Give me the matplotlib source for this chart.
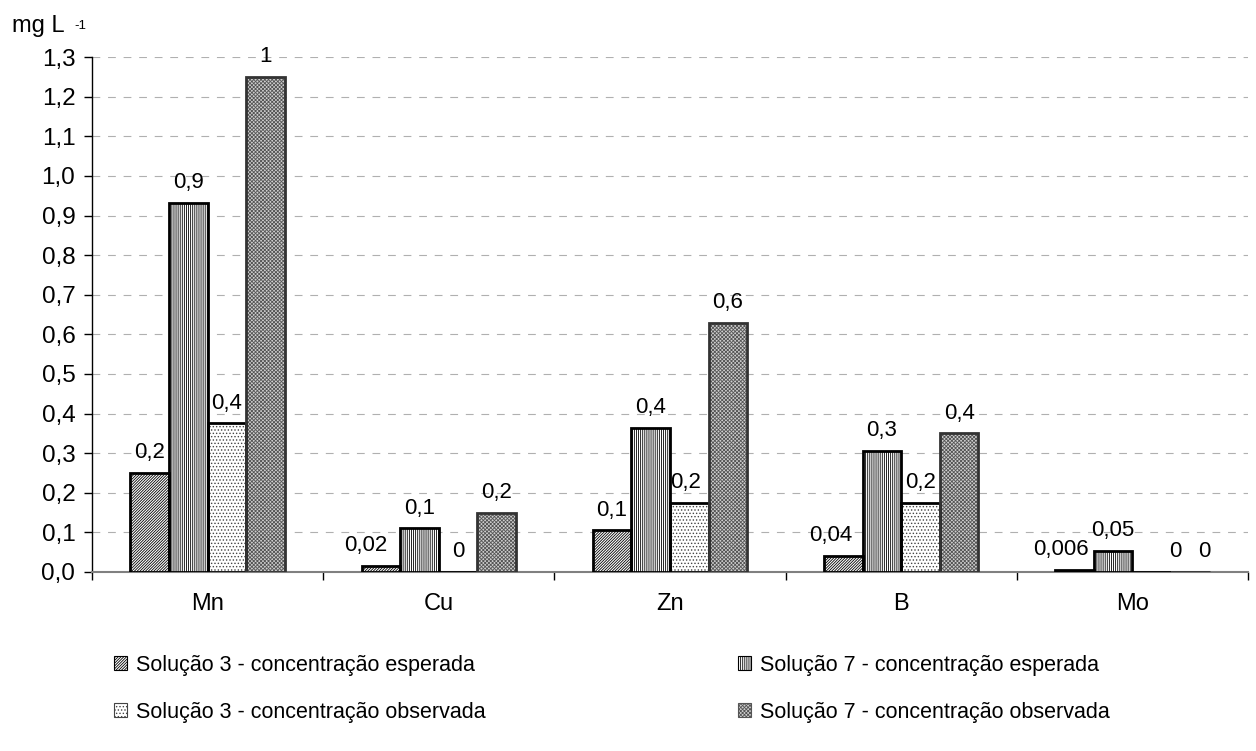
import matplotlib
matplotlib.use("Agg")
import matplotlib.pyplot as plt
import numpy as np
from matplotlib.patches import Patch

plt.rcParams['font.family'] = ['Liberation Sans', 'DejaVu Sans']
plt.rcParams['hatch.linewidth'] = 0.6

categories = ["Mn", "Cu", "Zn", "B", "Mo"]
series_names = ["Solução 3 - concentração esperada",
                "Solução 7 - concentração esperada",
                "Solução 3 - concentração observada",
                "Solução 7 - concentração observada"]
s3_esperada = [0.25, 0.015, 0.105, 0.04, 0.006]
s7_esperada = [0.932, 0.11, 0.364, 0.305, 0.053]
s3_observada = [0.375, 0.0, 0.174, 0.174, 0.0]
s7_observada = [1.25, 0.15, 0.629, 0.35, 0.0]
labels_s3_esp = ["0,2", "0,02", "0,1", "0,04", "0,006"]
labels_s7_esp = ["0,9", "0,1", "0,4", "0,3", "0,05"]
labels_s3_obs = ["0,4", "0", "0,2", "0,2", "0"]
labels_s7_obs = ["1", "0,2", "0,6", "0,4", "0"]
yticks = [0.0, 0.1, 0.2, 0.3, 0.4, 0.5, 0.6, 0.7, 0.8, 0.9, 1.0, 1.1, 1.2, 1.3]

series = [s3_esperada, s7_esperada, s3_observada, s7_observada]
labels = [labels_s3_esp, labels_s7_esp, labels_s3_obs, labels_s7_obs]
hatches = ['////////////', '||||||||', '.....', 'xxxxxxxxx']
faces = ['white', 'white', 'white', '#cfcfcf']
hcolors = ['black', 'black', '#444444', '#555555']
ecolors = ['black', 'black', 'black', '#333333']
# label offsets in points (x) to mimic collision avoidance in the original
label_dx = [[0, -11, 0, -9, -10], [0, 0, 0, 0, 0], [0, 0, -3, 0, 17], [0, 0, 0, 0, 10]]

fig = plt.figure(figsize=(12.56, 7.51), dpi=100)
ax = fig.add_axes([0.0732, 0.2384, 0.9204, 0.6856])

x = np.arange(len(categories)) + 0.5
w = 0.167
offs = [-1.5, -0.5, 0.5, 1.5]
handles = []
for i, vals in enumerate(series):
    xs = x + offs[i] * w
    ax.bar(xs, vals, width=w, facecolor=faces[i], edgecolor=hcolors[i],
           hatch=hatches[i], linewidth=0, zorder=3)
    ax.bar(xs, vals, width=w, facecolor='none', edgecolor=ecolors[i],
           linewidth=2.0, zorder=4)
    for j, (xx, v) in enumerate(zip(xs, vals)):
        ax.annotate(labels[i][j], (xx, v), xytext=(label_dx[i][j], 7),
                    textcoords='offset points', ha='center', va='bottom',
                    fontsize=16, zorder=5)
    handles.append(Patch(facecolor=faces[i], edgecolor=hcolors[i], hatch=hatches[i],
                         linewidth=0.8, label=series_names[i]))

ax.set_xlim(0, 5)
ax.set_ylim(0, 1.3)
ax.set_yticks(yticks)
ax.set_yticklabels([f"{t:.1f}".replace('.', ',') for t in yticks], fontsize=17.5)
ax.set_xticks(np.arange(0, 6))
ax.set_xticklabels([])
ax.set_xticks(x, minor=True)
ax.set_xticklabels(categories, minor=True, fontsize=17)
ax.tick_params(axis='x', which='minor', length=0, pad=15)
ax.tick_params(axis='x', which='major', length=6, width=1, color='black', direction='out')
ax.tick_params(axis='y', length=6, width=1, direction='out', pad=6)
ax.yaxis.grid(True, linestyle=(0, (7, 7)), color='#b0b0b0', linewidth=0.8, zorder=0)
ax.set_axisbelow(True)
for s in ['top', 'right']:
    ax.spines[s].set_visible(False)
ax.spines['left'].set_color('black')
ax.spines['left'].set_linewidth(1.0)
ax.spines['bottom'].set_color('#808080')
ax.spines['bottom'].set_linewidth(1.5)

fig.text(0.0096, 0.957, "mg L", fontsize=17, ha='left', va='baseline')
fig.text(0.059, 0.962, "-1", fontsize=9.5, ha='left', va='baseline')

order = [0, 2, 1, 3]
leg = fig.legend([handles[k] for k in order], [series_names[k] for k in order],
                 ncol=2, loc='upper left', bbox_to_anchor=(0.091, 0.128),
                 frameon=False, fontsize=15.5, handlelength=0.6, handleheight=0.6,
                 handletextpad=0.4, columnspacing=11.75, labelspacing=1.2,
                 borderaxespad=0, borderpad=0)

fig.savefig("out.png", dpi=100)
